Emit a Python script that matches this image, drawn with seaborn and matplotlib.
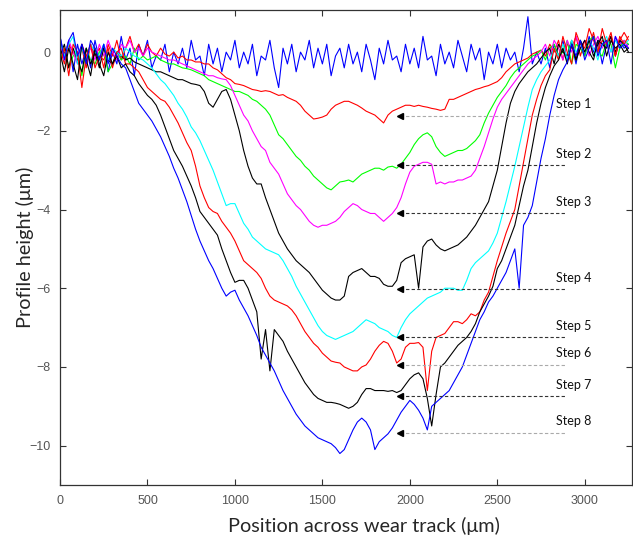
import numpy as np
import pandas as pd
import matplotlib
matplotlib.use('Agg')
import matplotlib.pyplot as plt
import seaborn as sns

# position across the wear track (um), one value every 25 um
position = np.arange(0, 3251, 25)

# profile heights (um), 10 values per row (250 um)
step0 = [0.4, -0.1, 0.3, -0.5, 0.2, -0.3, 0.1, -0.4, 0.3, -0.2,
         0.2, -0.5, 0.0, -0.3, 0.4, -0.2, 0.1, -0.6, 0.2, -0.1,
         0.3, -0.4, -0.1, -0.2, 0.2, -0.5, 0.0, -0.3, 0.1, -0.4,
         0.3, -0.2, -0.1, -0.6, 0.2, -0.3, 0.1, -0.5, 0.0, -0.2,
         0.3, -0.4, 0.0, -0.3, 0.2, -0.6, -0.1, -0.2, 0.3, -0.4,
         -0.9, 0.1, -0.3, 0.2, -0.5, 0.0, -0.2, 0.3, -0.4, 0.1,
         -0.3, 0.2, -0.6, -0.1, 0.1, -0.4, 0.2, -0.3, 0.0, -0.5,
         0.2, -0.2, -0.7, 0.1, -0.3, 0.3, -0.2, -0.1, -0.5, 0.2,
         -0.3, 0.1, -0.4, 0.4, -0.2, -0.1, -0.6, 0.2, -0.3, 0.0,
         -0.4, 0.3, -0.1, -0.5, 0.2, -0.2, 0.1, -0.7, 0.0, -0.3,
         0.2, -0.4, 0.1, -0.2, 0.0, -0.5, 0.1, 0.9, -0.3, 0.0,
         -0.3, 0.1, -0.4, 0.2, -0.1, 0.3, -0.2, 0.2, -0.3, 0.3,
         -0.1, 0.4, 0.0, 0.3, -0.3, 0.2, 0.4, -0.1, 0.3, 0.1,
         0.2]
step1 = [0.1, -0.3, 0.2, 0.0, -0.2, 0.1, -0.4, 0.2, -0.1, 0.1,
         -0.4, 0.2, -0.1, 0.3, -0.2, 0.1, 0.4, 0.0, 0.2, -0.1,
         0.2, 0.0, -0.1, 0.1, -0.05, -0.1, 0.0, -0.15, -0.1, -0.2,
         -0.2, -0.25, -0.25, -0.3, -0.3, -0.4, -0.45, -0.55, -0.65, -0.7,
         -0.8, -0.82, -0.85, -0.9, -0.95, -0.97, -1.0, -0.98, -1.0, -1.05,
         -1.1, -1.08, -1.15, -1.2, -1.25, -1.35, -1.5, -1.6, -1.7, -1.68,
         -1.65, -1.6, -1.45, -1.35, -1.3, -1.25, -1.25, -1.3, -1.35, -1.42,
         -1.5, -1.55, -1.6, -1.7, -1.8, -1.6, -1.5, -1.45, -1.4, -1.35,
         -1.35, -1.38, -1.35, -1.38, -1.4, -1.43, -1.45, -1.48, -1.45, -1.2,
         -1.2, -1.15, -1.1, -1.05, -1.0, -0.95, -0.92, -0.88, -0.85, -0.8,
         -0.75, -0.65, -0.5, -0.4, -0.3, -0.25, -0.2, -0.15, -0.05, 0.0,
         0.05, -0.1, 0.2, 0.0, 0.3, -0.2, 0.2, 0.1, 0.4, -0.1,
         0.3, 0.1, 0.5, 0.0, 0.3, 0.2, 0.4, -0.1, 0.3, 0.5,
         0.3]
step2 = [-0.2, 0.1, -0.4, -0.1, 0.0, -0.6, 0.1, -0.2, -0.3, 0.0,
         0.1, -0.5, -0.3, 0.0, -0.2, -0.1, -0.3, 0.1, -0.2, -0.1,
         -0.2, -0.15, -0.1, -0.2, -0.25, -0.3, -0.3, -0.35, -0.4, -0.42,
         -0.45, -0.5, -0.55, -0.6, -0.7, -0.75, -0.8, -0.85, -0.9, -0.95,
         -1.0, -1.0, -1.05, -1.1, -1.2, -1.25, -1.35, -1.45, -1.6, -1.85,
         -2.1, -2.2, -2.35, -2.5, -2.65, -2.75, -2.9, -3.0, -3.15, -3.25,
         -3.35, -3.45, -3.5, -3.4, -3.3, -3.28, -3.25, -3.3, -3.2, -3.1,
         -3.05, -3.0, -2.95, -2.95, -3.0, -2.92, -2.9, -2.95, -2.85, -2.7,
         -2.55, -2.35, -2.2, -2.1, -2.05, -2.15, -2.4, -2.55, -2.65, -2.6,
         -2.55, -2.5, -2.5, -2.45, -2.35, -2.25, -2.1, -1.8, -1.55, -1.35,
         -1.15, -1.0, -0.85, -0.65, -0.5, -0.4, -0.3, -0.2, -0.1, -0.05,
         0.05, -0.2, 0.1, 0.2, -0.1, 0.0, 0.3, -0.3, 0.2, 0.1,
         -0.1, 0.3, 0.4, 0.0, -0.1, 0.3, 0.2, -0.4, 0.1, 0.3,
         0.2]
step3 = [0.2, -0.2, 0.3, 0.0, -0.3, 0.2, -0.1, 0.1, -0.2, 0.2,
         -0.1, 0.3, 0.0, -0.2, 0.2, 0.1, 0.3, 0.0, 0.1, -0.1,
         0.1, 0.0, -0.05, -0.1, -0.15, -0.2, -0.2, -0.25, -0.3, -0.35,
         -0.4, -0.45, -0.5, -0.55, -0.6, -0.6, -0.65, -0.68, -0.7, -0.85,
         -1.1, -1.35, -1.6, -1.75, -2.0, -2.2, -2.4, -2.5, -2.8, -2.95,
         -3.1, -3.35, -3.6, -3.75, -3.9, -4.0, -4.15, -4.3, -4.4, -4.45,
         -4.4, -4.4, -4.35, -4.3, -4.2, -4.05, -3.95, -3.85, -3.9, -4.0,
         -4.05, -4.1, -4.1, -4.2, -4.3, -4.2, -4.1, -3.95, -3.7, -3.35,
         -3.05, -2.9, -2.85, -2.8, -2.8, -2.85, -3.35, -3.3, -3.35, -3.3,
         -3.3, -3.25, -3.25, -3.2, -3.15, -3.0, -2.7, -2.4, -2.05, -1.7,
         -1.4, -1.2, -1.05, -0.9, -0.75, -0.6, -0.45, -0.3, -0.2, -0.1,
         0.0, 0.2, -0.1, 0.3, 0.1, -0.2, 0.3, 0.0, 0.4, 0.1,
         0.3, -0.1, 0.2, 0.4, 0.1, 0.3, 0.0, 0.4, 0.2, 0.3,
         0.1]
step4 = [-0.1, 0.2, -0.4, 0.1, -0.2, -0.5, 0.1, -0.3, 0.0, -0.4,
         0.1, -0.2, -0.3, 0.0, -0.1, -0.2, -0.15, -0.25, -0.3, -0.35,
         -0.4, -0.45, -0.5, -0.5, -0.55, -0.6, -0.65, -0.7, -0.7, -0.75,
         -0.8, -0.82, -0.85, -1.0, -1.3, -1.4, -1.2, -1.0, -0.95, -1.2,
         -1.6, -2.0, -2.5, -2.9, -3.2, -3.35, -3.35, -3.7, -4.0, -4.3,
         -4.6, -4.8, -5.0, -5.15, -5.3, -5.4, -5.5, -5.6, -5.75, -5.9,
         -6.05, -6.15, -6.25, -6.3, -6.3, -6.2, -5.7, -5.6, -5.55, -5.5,
         -5.6, -5.7, -5.7, -5.75, -5.9, -5.95, -5.95, -5.8, -5.35, -5.25,
         -5.2, -5.15, -6.0, -4.95, -4.8, -4.75, -4.9, -5.0, -5.05, -5.0,
         -4.95, -4.9, -4.8, -4.7, -4.55, -4.4, -4.2, -4.0, -3.8, -3.4,
         -3.0, -2.4, -1.8, -1.3, -1.0, -0.8, -0.65, -0.5, -0.4, -0.3,
         -0.15, 0.0, 0.1, -0.3, 0.2, 0.0, -0.1, 0.3, -0.2, 0.1,
         0.3, 0.0, -0.2, 0.3, 0.2, 0.1, 0.4, 0.0, 0.3, 0.2,
         0.0]
step5 = [0.3, -0.1, 0.2, 0.4, -0.3, 0.1, -0.2, 0.2, 0.0, -0.1,
         0.2, -0.2, 0.1, 0.0, -0.1, 0.1, 0.0, -0.1, -0.15, -0.2,
         -0.3, -0.4, -0.55, -0.7, -0.8, -0.95, -1.1, -1.3, -1.45, -1.65,
         -1.9, -2.05, -2.25, -2.5, -2.75, -3.0, -3.3, -3.6, -3.9, -3.85,
         -3.85, -4.1, -4.35, -4.5, -4.7, -4.8, -4.9, -5.0, -5.05, -5.1,
         -5.15, -5.3, -5.5, -5.7, -5.95, -6.15, -6.35, -6.55, -6.75, -6.95,
         -7.1, -7.2, -7.25, -7.3, -7.25, -7.2, -7.15, -7.1, -7.0, -6.9,
         -6.8, -6.85, -6.9, -7.0, -7.05, -7.1, -7.2, -7.25, -7.0, -6.8,
         -6.65, -6.55, -6.45, -6.35, -6.25, -6.2, -6.15, -6.1, -6.0, -6.0,
         -6.0, -6.05, -6.05, -5.8, -5.5, -5.35, -5.25, -5.15, -5.05, -4.85,
         -4.6, -4.2, -3.8, -3.35, -2.9, -2.4, -1.9, -1.4, -0.95, -0.7,
         -0.5, -0.35, -0.2, 0.1, -0.1, 0.2, -0.2, 0.3, 0.0, 0.2,
         0.0, 0.3, 0.1, -0.2, 0.2, 0.4, 0.0, 0.3, 0.1, 0.2,
         0.3]
step6 = [-0.3, 0.1, -0.6, 0.2, 0.0, -0.9, -0.1, 0.2, -0.4, -0.1,
         -0.2, 0.1, -0.4, 0.0, 0.1, -0.3, -0.3, -0.4, -0.5, -0.7,
         -0.9, -1.0, -1.1, -1.2, -1.25, -1.4, -1.6, -1.8, -2.05, -2.3,
         -2.5, -2.9, -3.4, -3.7, -3.95, -4.05, -4.1, -4.3, -4.45, -4.6,
         -4.8, -5.05, -5.3, -5.4, -5.5, -5.6, -5.75, -6.0, -6.2, -6.3,
         -6.35, -6.4, -6.45, -6.55, -6.7, -6.9, -7.1, -7.25, -7.4, -7.5,
         -7.65, -7.75, -7.85, -7.88, -7.9, -8.0, -8.05, -8.1, -8.1, -8.0,
         -7.95, -7.8, -7.6, -7.45, -7.35, -7.4, -7.6, -7.9, -7.8, -7.5,
         -7.4, -7.4, -7.38, -7.5, -8.6, -7.6, -7.25, -7.2, -7.15, -7.0,
         -6.85, -6.85, -6.9, -6.8, -6.65, -6.7, -6.6, -6.3, -6.1, -5.7,
         -5.3, -4.95, -4.6, -4.3, -4.0, -3.4, -2.8, -2.2, -1.6, -1.2,
         -0.85, -0.6, -0.45, 0.1, -0.2, 0.4, 0.0, -0.3, 0.5, 0.2,
         0.1, 0.6, 0.3, 0.0, 0.6, 0.2, 0.5, -0.1, 0.4, 0.2,
         0.4]
step7 = [0.0, -0.5, 0.1, -0.3, -0.7, 0.2, -0.2, -0.6, 0.1, -0.3,
         -0.6, 0.0, -0.3, -0.1, -0.4, -0.3, -0.5, -0.6, -0.8, -0.95,
         -1.1, -1.2, -1.35, -1.6, -1.9, -2.2, -2.5, -2.7, -2.9, -3.15,
         -3.4, -3.7, -4.05, -4.2, -4.35, -4.5, -4.65, -5.0, -5.3, -5.6,
         -5.85, -5.8, -5.8, -6.0, -6.3, -6.6, -7.8, -7.05, -8.1, -7.05,
         -7.2, -7.35, -7.6, -7.8, -8.0, -8.2, -8.4, -8.55, -8.7, -8.8,
         -8.85, -8.9, -8.9, -8.92, -8.95, -9.0, -9.05, -9.0, -8.9, -8.7,
         -8.55, -8.55, -8.6, -8.6, -8.6, -8.62, -8.6, -8.65, -8.6, -8.45,
         -8.3, -8.2, -8.15, -8.3, -8.8, -9.5, -8.7, -8.0, -7.9, -7.75,
         -7.6, -7.45, -7.35, -7.25, -7.1, -6.9, -6.6, -6.4, -6.2, -5.95,
         -5.5, -5.3, -5.0, -4.7, -4.4, -3.9, -3.4, -3.0, -2.4, -1.8,
         -1.3, -0.9, -0.6, -0.35, -0.2, 0.1, -0.3, 0.2, -0.2, 0.3,
         0.0, 0.3, -0.1, 0.2, 0.4, -0.1, 0.3, 0.1, 0.2, 0.0,
         0.1]
step8 = [0.4, -0.2, 0.3, 0.5, -0.1, 0.2, -0.3, 0.3, 0.1, -0.2,
         0.2, -0.3, 0.1, -0.1, -0.3, -0.4, -0.7, -1.0, -1.3, -1.45,
         -1.6, -1.75, -1.95, -2.15, -2.4, -2.65, -2.95, -3.2, -3.5, -3.8,
         -4.15, -4.5, -4.8, -5.05, -5.3, -5.5, -5.75, -6.0, -6.2, -6.1,
         -6.05, -6.3, -6.5, -6.7, -6.95, -7.2, -7.5, -7.7, -7.9, -8.1,
         -8.35, -8.6, -8.8, -9.0, -9.2, -9.35, -9.5, -9.6, -9.7, -9.8,
         -9.85, -9.9, -9.95, -10.05, -10.2, -10.1, -9.85, -9.6, -9.4, -9.3,
         -9.4, -9.6, -10.1, -9.9, -9.8, -9.7, -9.55, -9.35, -9.15, -9.0,
         -8.85, -8.95, -9.1, -9.3, -9.6, -9.0, -8.9, -8.8, -8.7, -8.6,
         -8.4, -8.2, -8.0, -7.7, -7.4, -7.1, -6.8, -6.6, -6.35, -6.2,
         -6.0, -5.8, -5.6, -5.3, -5.0, -6.0, -4.4, -4.2, -3.9, -3.3,
         -2.7, -2.2, -1.6, -1.1, -0.7, -0.45, -0.25, 0.2, -0.1, 0.3,
         -0.2, 0.1, 0.4, -0.1, 0.2, 0.3, -0.3, 0.4, 0.1, 0.2,
         0.1]

step_names = ['Step 1', 'Step 2', 'Step 3', 'Step 4', 'Step 5', 'Step 6', 'Step 7', 'Step 8']
step_levels = [-1.63, -2.88, -4.10, -6.03, -7.25, -7.94, -8.75, -9.67]

profiles = [step0, step1, step2, step3, step4, step5, step6, step7, step8]
colors = ['#0000ff', '#ff0000', '#00ff00', '#ff00ff', '#000000',
          '#00ffff', '#ff0000', '#000000', '#0000ff']
guide_colors = ['#aaaaaa', '#333333', '#333333', '#333333', '#333333',
                '#aaaaaa', '#333333', '#aaaaaa']

sns.set_style('ticks')
plt.rcParams['font.family'] = ['Liberation Sans', 'DejaVu Sans']

fig = plt.figure(figsize=(6.33, 5.41), dpi=100)
ax = fig.add_axes([0.0948, 0.1035, 0.9036, 0.878])

for vals, col in zip(profiles, colors):
    sns.lineplot(x=position, y=vals, color=col, linewidth=0.8, ax=ax)

# dashed guide lines with arrow heads and step labels
for name, lev, gc in zip(step_names, step_levels, guide_colors):
    ax.plot([1945, 2885], [lev, lev], linestyle=(0, (3, 2)), color=gc, linewidth=0.8)
    ax.plot([1945], [lev], marker='<', color='black', markersize=5, linestyle='none')
    ax.text(2835, lev + 0.3, name, fontsize=9, family=['Lato', 'DejaVu Sans'],
            va='center', ha='left', color='#111111')

ax.set_xlim(0, 3270)
ax.set_ylim(-11, 1.07)
ax.set_xticks(range(0, 3001, 500))
ax.set_yticks(range(-10, 1, 2))
ax.tick_params(direction='in', top=True, right=True, length=4, width=0.8,
               labelsize=9, labelcolor='#555555', color='#333333', pad=7)
for sp in ax.spines.values():
    sp.set_linewidth(0.9)
    sp.set_color('#333333')

ax.set_xlabel('Position across wear track (μm)', fontsize=14.3,
              family=['Lato', 'DejaVu Sans'])
ax.set_ylabel('Profile height (μm)', fontsize=14.3,
              family=['Lato', 'DejaVu Sans'])
ax.xaxis.set_label_coords(0.531, -0.068)
ax.yaxis.set_label_coords(-0.046, 0.5)

fig.savefig('out.png', dpi=100)
